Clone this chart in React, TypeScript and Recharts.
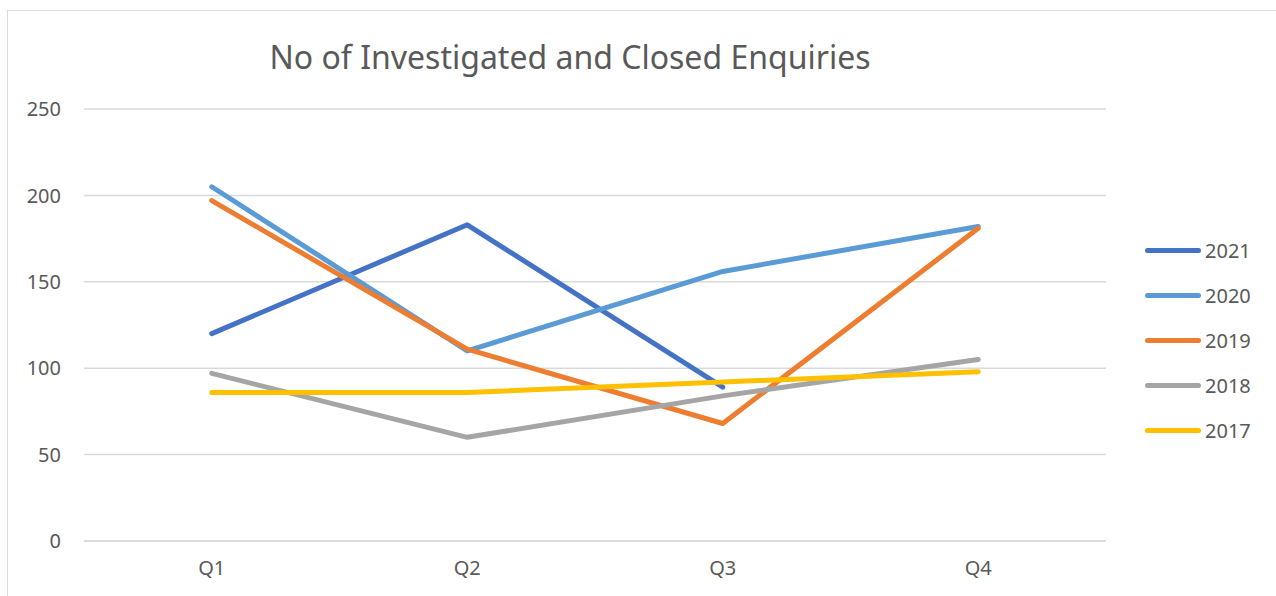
import { LineChart, Line, XAxis, YAxis, CartesianGrid } from 'recharts';

const quarters = ['Q1', 'Q2', 'Q3', 'Q4'];
const y2021 = [120, 183, 89, null];
const y2020 = [205, 110, 156, 182];
const y2019 = [197, 111, 68, 181];
const y2018 = [97, 60, 84, 105];
const y2017 = [86, 86, 92, 98];
const yTicks = [0, 50, 100, 150, 200, 250];

const series = [
  { key: '2021', values: y2021, color: '#4472C4' },
  { key: '2020', values: y2020, color: '#5B9BD5' },
  { key: '2019', values: y2019, color: '#ED7D31' },
  { key: '2018', values: y2018, color: '#A5A5A5' },
  { key: '2017', values: y2017, color: '#FFC000' },
];

const data = quarters.map((q, i) => {
  const row: Record<string, string | number | null> = { quarter: q };
  series.forEach((s) => {
    row[s.key] = s.values[i];
  });
  return row;
});

const font = '"Noto Sans", sans-serif';
const textColor = '#595959';

// legend drawn outside the chart so it doesn't eat into the plot width
function LegendBox() {
  return (
    <div style={{ position: 'absolute', left: 1145, top: 228, fontFamily: font }}>
      {series.map((s) => (
        <div key={s.key} style={{ display: 'flex', alignItems: 'center', height: 45 }}>
          <div style={{ width: 56, height: 5, borderRadius: 3, background: s.color }} />
          <span style={{ marginLeft: 4, fontSize: 20, color: textColor }}>{s.key}</span>
        </div>
      ))}
    </div>
  );
}

export default function App() {
  return (
    <div style={{ position: 'absolute', left: 0, top: 0, width: 1276, height: 596, background: '#fff', overflow: 'hidden' }}>
      <div
        style={{
          position: 'absolute',
          left: 7,
          top: 10,
          right: 0,
          bottom: 0,
          borderLeft: '1px solid #d9d9d9',
          borderTop: '1px solid #d9d9d9',
        }}
      />
      <div
        style={{
          position: 'absolute',
          left: 0,
          width: 1140,
          top: 36,
          textAlign: 'center',
          fontFamily: font,
          fontSize: 32,
          color: textColor,
          lineHeight: '42px',
        }}
      >
        No of Investigated and Closed Enquiries
      </div>
      <div style={{ position: 'absolute', left: 0, top: 0 }}>
        <LineChart width={1276} height={596} data={data} margin={{ top: 109, right: 170, left: 0, bottom: 25 }}>
          <CartesianGrid vertical={false} stroke="#d9d9d9" strokeWidth={1.5} />
          <XAxis
            dataKey="quarter"
            height={30}
            padding={{ left: 127.75, right: 127.75 }}
            axisLine={{ stroke: '#d9d9d9', strokeWidth: 1.5 }}
            tickLine={false}
            tickMargin={14}
            tick={{ fontSize: 20, fill: textColor, fontFamily: font }}
          />
          <YAxis
            width={84}
            domain={[0, 250]}
            ticks={yTicks}
            axisLine={false}
            tickLine={false}
            tickMargin={17}
            tick={{ fontSize: 20, fill: textColor, fontFamily: font }}
          />
          {series.map((s) => (
            <Line
              key={s.key}
              dataKey={s.key}
              stroke={s.color}
              strokeWidth={5}
              strokeLinecap="round"
              strokeLinejoin="round"
              dot={false}
              activeDot={false}
              isAnimationActive={false}
            />
          ))}
        </LineChart>
      </div>
      <LegendBox />
    </div>
  );
}
